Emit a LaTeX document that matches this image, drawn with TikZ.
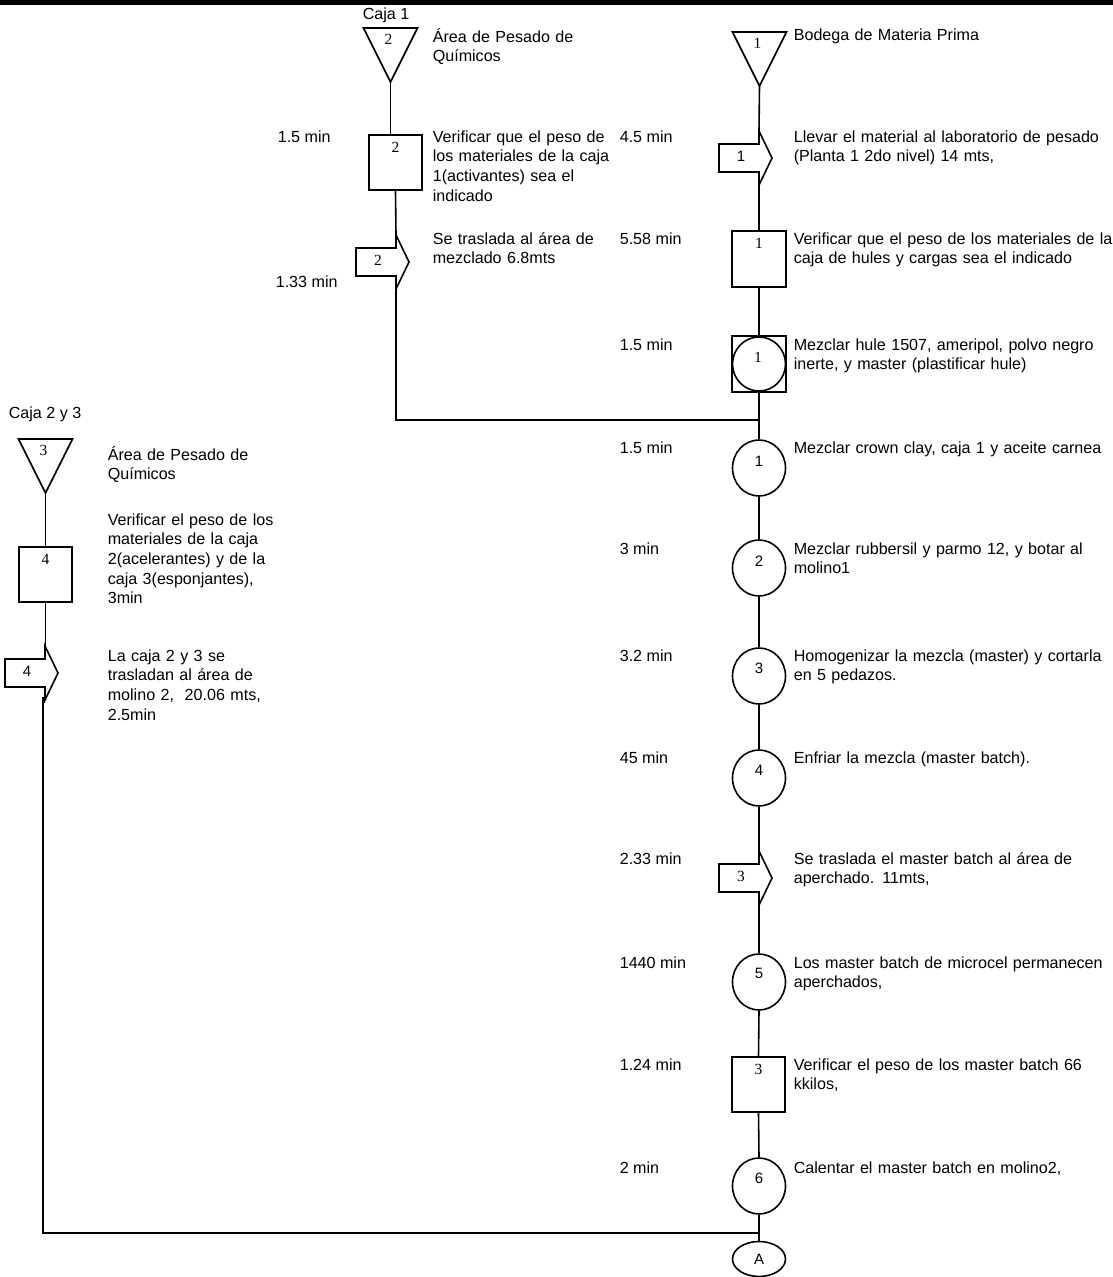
\documentclass[tikz,border=0pt]{standalone}
\usepackage{fontspec}
\setmainfont{Liberation Sans}
\newfontfamily\numserif{Liberation Serif}
\usetikzlibrary{shapes.geometric,calc}

\tikzset{
  shp/.style={draw=black, fill=white, line width=1.6pt},
  flow/.style={draw=black, line width=1.6pt},
  box/.style={shp, rectangle, minimum width=53pt, minimum height=55pt, inner sep=0pt},
  opcircle/.style={shp, ellipse, minimum width=53pt, minimum height=56pt, inner sep=0pt},
  sernum/.style={font=\numserif\fontsize{15.5}{15.5}\selectfont, inner sep=0pt},
  sansnum/.style={font=\fontsize{15}{15}\selectfont, inner sep=0pt},
  txt/.style={anchor=base west, inner sep=0pt, align=left, text width=330pt,
              font=\fontsize{16.1}{19.7}\selectfont},
  tme/.style={anchor=base west, inner sep=0pt, font=\fontsize{16.1}{19.7}\selectfont},
}

% storage triangle: name, centre x, top y, number
\newcommand\tristore[4]{%
  \draw[shp] (#2-27,#3) -- (#2+27,#3) -- (#2,#3+54) -- cycle;
  \coordinate (#1) at (#2,#3+54);
  \node[sernum] (#1-n) at (#2-2,#3+11) {#4};
}
% transport arrow: name, x of the head base, centre y, number, number style
\newcommand\movearrow[5]{%
  \draw[shp] (#2-40,#3-14) -- (#2,#3-14) -- (#2,#3-27) -- (#2+13,#3)
     -- (#2,#3+27) -- (#2,#3+14) -- (#2-40,#3+14) -- cycle;
  \coordinate (#1-in) at (#2,#3-27);
  \coordinate (#1-out) at (#2,#3+27);
  \node[#5] (#1-n) at (#2-18,#3-2) {#4};
}

\begin{document}
\begin{tikzpicture}[x=1pt, y=-1pt, line width=1.6pt]
\useasboundingbox (0,0) rectangle (1113,1277);
\fill[black] (0,0) rectangle (1113,5);

% ---------- main line: raw material ----------
\tristore{t1}{759.5}{32}{1}
\movearrow{a1}{759}{158}{1}{sansnum}
\node[box, minimum width=54pt, minimum height=56pt,
      label={[sernum,anchor=north,yshift=-7.5pt]north:1}] (s1) at (759,259) {};
\node[box, minimum width=54pt, minimum height=56pt] (m0) at (759,364) {};
\draw[line width=1.6pt] (m0.center) ellipse (26.5pt and 27pt);
\node[sernum] (m0-n) at (758,357) {1};
\node[opcircle, label={[sansnum,yshift=7pt]center:1}] (o1) at (759,468) {};
\node[opcircle, label={[sansnum,yshift=7pt]center:2}] (o2) at (759,568) {};
\node[opcircle, label={[sansnum,yshift=8pt]center:3}] (o3) at (759,676) {};
\node[opcircle, label={[sansnum,yshift=8pt]center:4}] (o4) at (759,778) {};
\movearrow{a3}{759}{878}{3}{sernum}
\node[opcircle, label={[sansnum,yshift=9pt]center:5}] (o5) at (759,982) {};
\node[box, label={[sernum,anchor=north,yshift=-7.5pt]north:3}] (s3) at (758.5,1084.5) {};
\node[opcircle, label={[sansnum,yshift=8pt]center:6}] (o6) at (759,1186) {};
\node[shp, ellipse, minimum width=53pt, minimum height=35pt, inner sep=0pt,
      font=\fontsize{15}{15}\selectfont] (A) at (759,1259) {A};

% ---------- box 1 branch ----------
\tristore{t2}{390.5}{28}{2}
\node[box, label={[sernum,anchor=north,yshift=-7.5pt]north:2}] (s2) at (395.5,162.5) {};
\movearrow{a2}{396}{262}{2}{sernum}

% ---------- boxes 2 and 3 branch ----------
\tristore{t3}{45.5}{439}{3}
\node[box, label={[sernum,anchor=north,yshift=-7.5pt]north:4}] (s4) at (45.5,574.5) {};
\movearrow{a4}{45}{673}{4}{sansnum}

% ---------- connectors ----------
\coordinate (j1) at (759,420);
\coordinate (j2) at (759,1233);
\coordinate (a4-foot) at (43,697);
\draw[flow] (t1) -- (a1-in);
\draw[flow] (a1-out) -- (s1.north);
\draw[flow] (s1.south) -- (m0.north);
\draw[flow] (m0.south) -- (o1.north);
\draw[flow] (o1.south) -- (o2.north);
\draw[flow] (o2.south) -- (o3.north);
\draw[flow] (o3.south) -- (o4.north);
\draw[flow] (o4.south) -- (a3-in);
\draw[flow] (a3-out) -- (o5.north);
\draw[flow] (o5.south) -- (s3.north);
\draw[flow] (s3.south) -- (o6.north);
\draw[flow] (o6.south) -- (A.north);
\draw[flow] (t2) -- (t2 |- s2.north);
\draw[flow] (s2.south) -- (a2-in);
\draw[flow] (a2-out) |- (j1);
\draw[flow] (t3) -- (t3 |- s4.north);
\draw[flow] (s4.south) -- (s4.south |- a4-in);
\draw[flow] (a4-foot) |- (j2);

% ---------- captions ----------
\node[tme] (cap1) at (362,19) {Caja 1};
\node[tme] (cap2) at (8,418) {Caja 2 y 3};

\node[txt] (d1) at (793,40) {Bodega de Materia Prima};
\node[txt] (d2) at (793,142) {Llevar el material al laboratorio de pesado\\(Planta 1 2do nivel) 14 mts,};
\node[txt] (d3) at (793,244) {Verificar que el peso de los materiales de la\\caja de hules y cargas sea el indicado};
\node[txt] (d4) at (793,350) {Mezclar hule 1507, ameripol, polvo negro\\inerte, y master (plastificar hule)};
\node[txt] (d5) at (793,453) {Mezclar crown clay, caja 1 y aceite carnea};
\node[txt] (d6) at (793,554) {Mezclar rubbersil y parmo 12, y botar al\\molino1};
\node[txt] (d7) at (793,661) {Homogenizar la mezcla (master) y cortarla\\en 5 pedazos.};
\node[txt] (d8) at (793,763) {Enfriar la mezcla (master batch).};
\node[txt] (d9) at (793,864) {Se traslada el master batch al área de\\aperchado. 11mts,};
\node[txt] (d10) at (793,968) {Los master batch de microcel permanecen\\aperchados,};
\node[txt] (d11) at (793,1070) {Verificar el peso de los master batch 66\\kkilos,};
\node[txt] (d12) at (793,1173) {Calentar el master batch en molino2,};

\node[tme] (m1) at (619,142) {4.5 min};
\node[tme] (m2) at (619,244) {5.58 min};
\node[tme] (m3) at (619,350) {1.5 min};
\node[tme] (m4) at (619,453) {1.5 min};
\node[tme] (m5) at (619,554) {3 min};
\node[tme] (m6) at (619,661) {3.2 min};
\node[tme] (m7) at (619,763) {45 min};
\node[tme] (m8) at (619,864) {2.33 min};
\node[tme] (m9) at (619,968) {1440 min};
\node[tme] (m10) at (619,1070) {1.24 min};
\node[tme] (m11) at (619,1173) {2 min};

\node[txt] (e1) at (432,42) {Área de Pesado de\\Químicos};
\node[txt] (e2) at (432,142) {Verificar que el peso de\\los materiales de la caja\\1(activantes) sea el\\indicado};
\node[txt] (e3) at (432,244) {Se traslada al área de\\mezclado 6.8mts};
\node[tme] (m12) at (277,142) {1.5 min};
\node[tme] (m13) at (275,287) {1.33 min};

\node[txt] (f1) at (107,460) {Área de Pesado de\\Químicos};
\node[txt] (f2) at (107,525) {Verificar el peso de los\\materiales de la caja\\2(acelerantes) y de la\\caja 3(esponjantes),\\3min};
\node[txt] (f3) at (107,661) {La caja 2 y 3 se\\trasladan al área de\\molino 2,\ \ 20.06 mts,\\2.5min};
\end{tikzpicture}
\end{document}
